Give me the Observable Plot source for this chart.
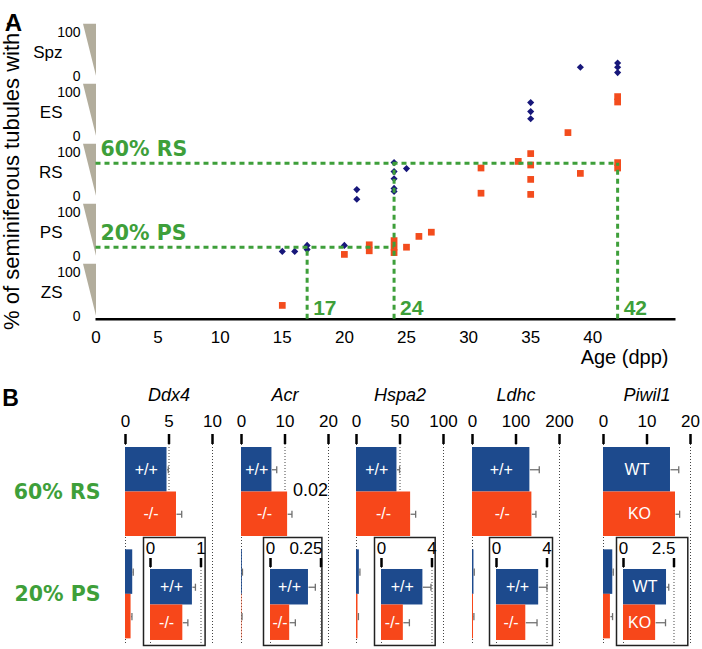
<!DOCTYPE html>
<html><head><meta charset="utf-8">
<script src="https://cdn.jsdelivr.net/npm/d3@7"></script>
<script src="https://cdn.jsdelivr.net/npm/@observablehq/plot@0.6"></script>
<style>
body{margin:0;background:#fff}
#fig{position:relative;width:702px;height:649px;overflow:hidden;background:#fff}
.pane{position:absolute}
.pane svg{overflow:visible;max-width:none}
</style></head><body><div id="fig"></div>
<script>
// ---------- Panel A data ----------
const stages = ["ZS", "PS", "RS", "ES", "Spz"];
const ageTicks = [0, 5, 10, 15, 20, 25, 30, 35, 40];
const yTitle = "% of seminiferous tubules with :";
const xTitle = "Age (dpp)";

const wtAge   = [15, 16, 17, 17, 20, 21, 21, 24, 24, 24, 24, 24, 25, 35, 35, 35, 39, 42, 42, 42];
const wtStage = ["PS","PS","PS","PS","PS","RS","RS","RS","RS","RS","RS","RS","RS","ES","ES","ES","Spz","Spz","Spz","Spz"];
const wtPct   = [13, 13, 23, 16, 23, 16, 0, 61, 46, 34, 18, 13, 51, 61, 46, 34, 20, 27, 20, 11];

const koAge   = [15, 20, 22, 22, 24, 24, 24, 25, 26, 27, 31, 31, 34, 35, 35, 35, 35, 38, 39, 42, 42, 42, 42];
const koStage = ["ZS","PS","PS","PS","PS","PS","PS","PS","PS","PS","RS","RS","RS","RS","RS","RS","RS","ES","RS","ES","ES","RS","RS"];
const koPct   = [23, 8, 24, 14, 31, 20, 11, 20, 38, 45, 52, 10, 63, 76, 57, 33, 8, 11, 43, 71, 62, 61, 52];

const refLabel = ["60% RS", "20% PS"];
const refStage = ["RS", "PS"];
const refPct   = [60, 20];
const refUntil = [42, 24];

const cutAge   = [17, 24, 42];
const cutStage = ["PS", "RS", "RS"];
const cutPct   = [20, 60, 60];

// ---------- Panel B data ----------
const genes    = ["Ddx4", "Acr", "Hspa2", "Ldhc", "Piwil1"];
const geneMax  = [10, 20, 100, 200, 20];
const insetMax = [1, 0.25, 4, 4, 2.5];
const groups   = ["60% RS", "20% PS"];
const genoLabels = [["+/+","-/-"],["+/+","-/-"],["+/+","-/-"],["+/+","-/-"],["WT","KO"]];
const rsWtMean = [4.77, 7.0, 46.5, 131.9, 15.4];
const rsWtSem  = [0.15, 1.1, 3.0, 21.6, 1.9];
const rsKoMean = [5.86, 10.6, 62.2, 136.5, 16.55];
const rsKoSem  = [0.6, 1.0, 5.8, 9.3, 0.95];
const psWtMean = [0.83, 0.188, 3.28, 3.34, 2.13];
const psWtSem  = [0.06, 0.034, 0.64, 0.66, 0.11];
const psKoMean = [0.64, 0.095, 1.73, 2.32, 1.59];
const psKoSem  = [0.1, 0.028, 0.48, 0.89, 0.49];
const pValues  = ["", "0.02", "", "", ""];

// ---------- styles ----------
const FONT = '"Liberation Sans", Arial, Helvetica, sans-serif';
const green = "#3e9f3a", blue = "#1d4a8d", orange = "#f7471a";
const navy = "#17177a", squareRed = "#f34c1d", wedgeFill = "#b2ad9c";
const baseStyle = {fontFamily: FONT, background: "transparent", overflow: "visible", color: "black", maxWidth: "none"};
const greenLabel = {fontSize: 20.5, fontWeight: "bold", fill: green, fontFamily: '"DejaVu Sans", "Liberation Sans", sans-serif'};

function mount(svg, left, top, w, h) {
  const d = document.createElement("div");
  d.className = "pane";
  d.style.left = left + "px";
  d.style.top = top + "px";
  d.style.width = w + "px";
  d.style.height = h + "px";
  d.appendChild(svg);
  document.getElementById("fig").appendChild(d);
}

// ---------- Panel A ----------
const stageIdx = s => stages.indexOf(s);
const level = d => stageIdx(d.stage) * 100 + d.pct;
const wt = wtAge.map((a, i) => ({age: a, stage: wtStage[i], pct: wtPct[i]}));
const ko = koAge.map((a, i) => ({age: a, stage: koStage[i], pct: koPct[i]}));
const refH = refLabel.map((l, i) => ({label: l, stage: refStage[i], pct: refPct[i], until: refUntil[i]}));
const refV = cutAge.map((a, i) => ({age: a, stage: cutStage[i], pct: cutPct[i]}));
const wedge = {draw(ctx) { ctx.moveTo(-13, -26); ctx.lineTo(0, -26); ctx.lineTo(0, 26); ctx.closePath(); }};
const dash = {stroke: green, strokeWidth: 3, strokeDasharray: "5,4"};

const panelA = Plot.plot({
  width: 702, height: 370,
  marginLeft: 95.5, marginRight: 26.5, marginTop: 18.7, marginBottom: 51.3,
  style: baseStyle,
  x: {domain: [0, 46.7], axis: null},
  y: {domain: [0, 500], axis: null},
  marks: [
    Plot.dot(stages, {x: 0, y: (d, i) => i * 100 + 49, symbol: wedge, r: 1, fill: wedgeFill}),
    Plot.text(stages, {x: 0, y: (d, i) => i * 100 + 78, text: () => "100", dx: -15.5, textAnchor: "end", fontSize: 14}),
    Plot.text(stages, {x: 0, y: (d, i) => i * 100 + 5, text: () => "0", dx: -15.5, textAnchor: "end", fontSize: 14}),
    Plot.text(stages, {x: 0, y: (d, i) => i * 100 + 45, text: d => d, dx: -33.5, textAnchor: "end", fontSize: 17}),
    Plot.text([yTitle], {text: d => d, frameAnchor: "left", dx: -84, dy: 6, rotate: -90, textAnchor: "middle", fontSize: 22}),
    Plot.ruleY([0], {stroke: "black", strokeWidth: 2.5}),
    Plot.text(ageTicks, {x: d => d, y: 0, text: d => String(d), dy: 18, fontSize: 17}),
    Plot.text([xTitle], {text: d => d, frameAnchor: "bottom-right", dx: -7.5, dy: 45, textAnchor: "end", fontSize: 20}),
    Plot.dot(ko, {x: "age", y: level, symbol: "square", r: 3.8, fill: squareRed}),
    Plot.dot(wt, {x: "age", y: level, symbol: "diamond2", r: 3.2, fill: navy}),
    Plot.ruleY(refH, {y: level, x1: 0, x2: "until", ...dash}),
    Plot.ruleX(refV, {x: "age", y1: 0, y2: level, ...dash}),
    Plot.text(refH, {x: 0, y: level, text: "label", dx: 4.5, dy: -13.5, textAnchor: "start", ...greenLabel}),
    Plot.text(refV, {x: "age", y: 0, text: d => String(d.age), dx: 6, dy: -11, textAnchor: "start", fontSize: 21, fontWeight: "bold", fill: green}),
    Plot.text(["A"], {text: d => d, frameAnchor: "top-left", dx: -82.5, dy: -5.7, textAnchor: "middle", fontSize: 24, fontWeight: "bold"})
  ]
});
mount(panelA, 0, 0, 702, 370);

// ---------- Panel B ----------
const mainLeft = [125, 240.7, 355.7, 472.3, 603.3];
const insetLeft = [142.7, 263.3, 374.3, 489.3, 616];
const insetW = [61.6, 58.4, 60.7, 63, 71.3];

function rowsFor(i) {
  return [
    {grp: 0, geno: 0, mean: rsWtMean[i], sem: rsWtSem[i], label: genoLabels[i][0]},
    {grp: 0, geno: 1, mean: rsKoMean[i], sem: rsKoSem[i], label: genoLabels[i][1]},
    {grp: 1, geno: 0, mean: psWtMean[i], sem: psWtSem[i], label: genoLabels[i][0]},
    {grp: 1, geno: 1, mean: psKoMean[i], sem: psKoSem[i], label: genoLabels[i][1]}
  ];
}
const fillOf = d => d.geno === 0 ? blue : orange;
const errStyle = {stroke: "#707070", strokeWidth: 1.3};

for (let i = 0; i < genes.length; i++) {
  const max = geneMax[i];
  const ticks = [0, max / 2, max];
  const rows = rowsFor(i);
  const top = 380, U = 44.5, y0 = 447;
  const py = px => (px - y0) / U;
  const rt = d => d.grp * 2.3 + d.geno;
  const ctr = d => rt(d) + 0.5;
  const marks = [
    Plot.ruleX(ticks, {x: d => d, y1: py(444), y2: py(643), stroke: "#444", strokeWidth: 1, strokeDasharray: "1,2"}),
    Plot.rect(rows, {x1: 0, x2: "mean", y1: rt, y2: d => rt(d) + 1, fill: fillOf}),
    Plot.link(rows, {x1: "mean", x2: d => d.mean + d.sem, y1: ctr, y2: ctr, ...errStyle}),
    Plot.link(rows, {x1: d => d.mean + d.sem, x2: d => d.mean + d.sem, y1: d => ctr(d) - 0.08, y2: d => ctr(d) + 0.08, ...errStyle}),
    Plot.text(rows.filter(d => d.grp === 0), {x: d => d.mean / 2, y: ctr, text: "label", fill: "white", fontSize: 16}),
    Plot.ruleX(ticks, {x: d => d, y1: py(434), y2: py(444), stroke: "black", strokeWidth: 2.5}),
    Plot.text(ticks, {x: d => d, y: py(421.5), text: d => String(d), fontSize: 17}),
    Plot.text([genes[i]], {text: d => d, x: max / 2, y: py(395), fontSize: 18, fontStyle: "italic"})
  ];
  if (pValues[i]) {
    marks.push(Plot.text([pValues[i]], {text: d => d, x: rsKoMean[i] + rsKoSem[i], y: 1, dx: 1, dy: -1.5, textAnchor: "start", fontSize: 18}));
  }
  if (i === 0) {
    marks.push(Plot.text(groups, {text: d => d, x: 0, y: (d, j) => j * 2.3 + 1, dx: -25, textAnchor: "end", ...greenLabel}));
    marks.push(Plot.text(["B"], {text: d => d, x: 0, y: py(398), dx: -115, fontSize: 23, fontWeight: "bold"}));
  }
  const svg = Plot.plot({
    width: 140, height: 269,
    marginLeft: 0, marginRight: 0, marginTop: 0, marginBottom: 0,
    style: baseStyle,
    x: {domain: [0, max], range: [15, 15 + 87], axis: null},
    y: {domain: [0, 4.3], range: [y0 - top, y0 - top + 4.3 * U], axis: null},
    marks
  });
  mount(svg, mainLeft[i] - 15, top, 140, 269);

  // inset
  const imax = insetMax[i];
  const itop = 537, IH = 108, IU = 35.5, iy0 = 32;
  const ipy = px => (px - iy0) / IU;
  const irows = rows.filter(d => d.grp === 1);
  const irt = d => d.geno;
  const ictr = d => d.geno + 0.5;
  const iticks = [0, imax];
  const maxLabel = String(imax);
  const inset = Plot.plot({
    width: insetW[i], height: IH,
    marginLeft: 0, marginRight: 0, marginTop: 0, marginBottom: 0,
    style: baseStyle,
    x: {domain: [0, imax], range: [7, 57.5], axis: null},
    y: {domain: [0, 2], range: [iy0, iy0 + 2 * IU], axis: null},
    marks: [
      Plot.frame({fill: "white", stroke: "#222", strokeWidth: 1.5}),
      Plot.ruleX(iticks, {x: d => d, y1: ipy(30), y2: ipy(107), stroke: "#444", strokeWidth: 1, strokeDasharray: "1,2"}),
      Plot.rect(irows, {x1: 0, x2: "mean", y1: irt, y2: d => irt(d) + 1, fill: fillOf}),
      Plot.link(irows, {x1: "mean", x2: d => d.mean + d.sem, y1: ictr, y2: ictr, ...errStyle}),
      Plot.link(irows, {x1: d => d.mean + d.sem, x2: d => d.mean + d.sem, y1: d => ictr(d) - 0.1, y2: d => ictr(d) + 0.1, ...errStyle}),
      Plot.text(irows, {x: d => d.mean / 2, y: ictr, text: "label", fill: "white", fontSize: 16}),
      Plot.ruleX(iticks, {x: d => d, y1: ipy(21), y2: ipy(30), stroke: "black", strokeWidth: 2.5}),
      Plot.text([0], {x: d => d, y: ipy(11), text: d => String(d), fontSize: 17}),
      Plot.text([imax], {x: d => d, y: ipy(11), text: d => String(d), fontSize: 17,
        textAnchor: maxLabel.length > 1 ? "end" : "middle", dx: maxLabel.length > 1 ? 1.5 : 0})
    ]
  });
  mount(inset, insetLeft[i], itop, insetW[i], IH);
}
</script></body></html>
